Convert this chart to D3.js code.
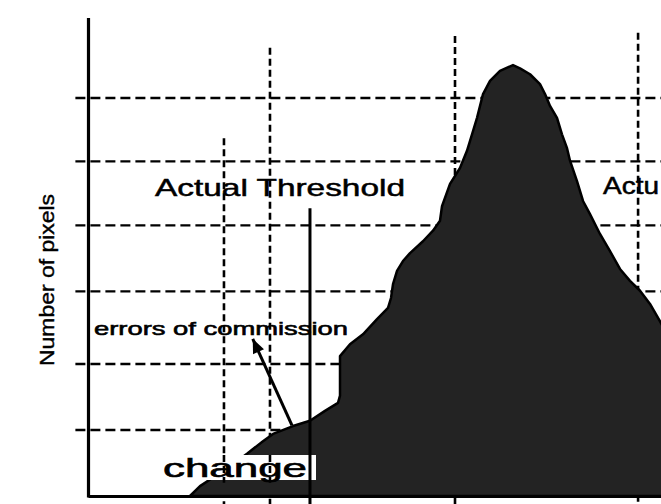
<!DOCTYPE html>
<html>
<head>
<meta charset="utf-8">
<script src="https://cdn.jsdelivr.net/npm/d3@7"></script>
<style>
  html, body { margin: 0; padding: 0; background: #fff; }
  svg { display: block; }
</style>
</head>
<body>
<svg id="chart" width="661" height="504"></svg>
<script>
// ---- data ----
// histogram outline: brightness value (0-100) vs number of pixels (arbitrary units)
const binX = [17.8, 19.55, 22.16, 24.78, 27.75, 30.54, 32.29, 35.78, 38.74, 41.36, 43.63, 43.98, 43.98,
  45.72, 47.99, 50.44, 52.36, 52.88, 53.23, 53.93, 54.97, 56.20, 58.46, 60.21, 61.43, 61.78, 63.18,
  64.92, 66.14, 67.02, 67.89, 68.94, 70.16, 71.90, 74.17, 75.39, 77.14, 78.88, 79.76, 80.63, 81.85,
  82.72, 83.60, 84.12, 85.34, 86.39, 87.61, 89.35, 91.10, 92.84, 94.59, 96.34, 98.08, 100, 102];
const pixelCount = [0, 0.15, 0.30, 0.45, 0.64, 0.83, 0.94, 1.06, 1.14, 1.29, 1.41, 1.52, 2.12,
  2.30, 2.45, 2.68, 2.85, 3.0, 3.21, 3.41, 3.56, 3.68, 3.86, 4.02, 4.17, 4.39, 4.73,
  4.97, 5.23, 5.48, 5.73, 6.09, 6.29, 6.44, 6.53, 6.48, 6.39, 6.24, 6.09, 5.91, 5.73,
  5.48, 5.27, 5.08, 4.77, 4.47, 4.27, 3.97, 3.71, 3.44, 3.26, 3.11, 2.91, 2.62, 2.3];
// horizontal dashed reference levels
const gridLevels = [1, 2, 3.1, 4.1, 5.07, 6.03];
// vertical dashed reference values and the level they start from
const dashedX = [23.73, 31.76, 64.05, 96.0];
const dashedTop = [5.42, 6.79, 6.97, 7.02];
// actual threshold (solid line)
const thresholdX = [38.74];
const thresholdTop = [4.36];
// labels
const yLabel = "Number of pixels";
const thresholdLabels = ["Actual Threshold", "Actu"];
const commissionLabel = "errors of commission";
const changeLabel = "change";

// ---- scales ----
const W = 661, H = 504;
const x = d3.scaleLinear().domain([0, 100]).range([88, 661]);
const y = d3.scaleLinear().domain([0, 7.5]).range([496, 1]);
const FONT = "Liberation Sans, Arial, sans-serif";

const svg = d3.select("#chart");
svg.append("defs").append("clipPath").attr("id", "clip")
  .append("rect").attr("x", 0).attr("y", 0).attr("width", W).attr("height", H);
const g = svg.append("g").attr("clip-path", "url(#clip)");

// horizontal dashed grid
g.selectAll("line.hgrid").data(gridLevels).enter().append("line")
  .attr("class", "hgrid")
  .attr("x1", x(-2.2)).attr("x2", W)
  .attr("y1", d => y(d)).attr("y2", d => y(d))
  .attr("stroke", "#000").attr("stroke-width", 2.4)
  .attr("stroke-dasharray", "10,5");

// vertical dashed lines
g.selectAll("line.vgrid").data(dashedX).enter().append("line")
  .attr("class", "vgrid")
  .attr("x1", d => x(d)).attr("x2", d => x(d))
  .attr("y1", (d, i) => y(dashedTop[i])).attr("y2", H)
  .attr("stroke", "#000").attr("stroke-width", 2.6)
  .attr("stroke-dasharray", "7,4");

// histogram area
const area = d3.area()
  .x((d, i) => x(binX[i]))
  .y0(y(0))
  .y1((d, i) => y(pixelCount[i]))
  .curve(d3.curveLinear);
g.append("path")
  .datum(binX)
  .attr("d", area)
  .attr("fill", "#232323")
  .attr("stroke", "#000")
  .attr("stroke-width", 2.5)
  .attr("stroke-linejoin", "round");

// "change" label with white box
g.append("rect")
  .attr("x", 190).attr("y", 455).attr("width", 126).attr("height", 25)
  .attr("fill", "#fff");
g.append("text")
  .attr("x", 163).attr("y", 477)
  .attr("font-family", FONT)
  .attr("font-size", 25)
  .attr("textLength", 144).attr("lengthAdjust", "spacingAndGlyphs")
  .attr("fill", "#000").attr("stroke", "#000").attr("stroke-width", 0.6)
  .text(changeLabel);

// vertical dashed lines re-drawn over the label area
g.selectAll("line.vgrid2").data(dashedX.slice(0, 2)).enter().append("line")
  .attr("x1", d => x(d)).attr("x2", d => x(d))
  .attr("y1", y(0.62)).attr("y2", y(0.2))
  .attr("stroke", "#000").attr("stroke-width", 2.6)
  .attr("stroke-dasharray", "7,4");

// threshold solid line
g.selectAll("line.thr").data(thresholdX).enter().append("line")
  .attr("x1", d => x(d)).attr("x2", d => x(d))
  .attr("y1", (d, i) => y(thresholdTop[i])).attr("y2", H)
  .attr("stroke", "#000").attr("stroke-width", 3);

// threshold labels
g.append("text")
  .attr("x", 155).attr("y", 196)
  .attr("font-family", FONT)
  .attr("font-size", 24)
  .attr("textLength", 250).attr("lengthAdjust", "spacingAndGlyphs")
  .attr("fill", "#000").attr("stroke", "#000").attr("stroke-width", 0.5)
  .text(thresholdLabels[0]);
g.append("text")
  .attr("x", 603).attr("y", 194)
  .attr("font-family", FONT)
  .attr("font-size", 24)
  .attr("textLength", 56).attr("lengthAdjust", "spacingAndGlyphs")
  .attr("fill", "#000").attr("stroke", "#000").attr("stroke-width", 0.5)
  .text(thresholdLabels[1]);

// errors of commission label
g.append("text")
  .attr("x", 94).attr("y", 335)
  .attr("font-family", FONT)
  .attr("font-size", 19)
  .attr("textLength", 254).attr("lengthAdjust", "spacingAndGlyphs")
  .attr("fill", "#000").attr("stroke", "#000").attr("stroke-width", 0.6)
  .text(commissionLabel);

// arrow
const ax1 = x(35.6), ay1 = y(1.07), ax2 = x(28.75), ay2 = y(2.38);
g.append("line")
  .attr("x1", ax1).attr("y1", ay1).attr("x2", ax2).attr("y2", ay2)
  .attr("stroke", "#000").attr("stroke-width", 3);
const ang = Math.atan2(ay2 - ay1, ax2 - ax1);
const hl = 14, hw = 6;
const bx = ax2 - hl * Math.cos(ang), by = ay2 - hl * Math.sin(ang);
g.append("path")
  .attr("d", `M${ax2},${ay2} L${bx + hw * Math.sin(ang)},${by - hw * Math.cos(ang)} L${bx - hw * Math.sin(ang)},${by + hw * Math.cos(ang)} Z`)
  .attr("fill", "#000");

// axes
const xAxis = d3.axisBottom(x.copy().domain([0, 100]).range([x(0), W]))
  .tickValues([]).tickSizeOuter(0);
const xa = g.append("g").attr("transform", `translate(0,${y(0)})`).call(xAxis);
xa.select(".domain").attr("stroke", "#000").attr("stroke-width", 3.2);

const yAxis = d3.axisLeft(y.copy().domain([0, 7.25]).range([y(0) + 1, y(7.25)]))
  .tickValues([]).tickSizeOuter(0);
const ya = g.append("g").attr("transform", `translate(${x(0)},0)`).call(yAxis);
ya.select(".domain").attr("stroke", "#000").attr("stroke-width", 3.2);

// y label
g.append("text")
  .attr("transform", `translate(54,280) rotate(-90)`)
  .attr("text-anchor", "middle")
  .attr("font-family", FONT)
  .attr("font-size", 21)
  .attr("textLength", 172).attr("lengthAdjust", "spacingAndGlyphs")
  .attr("fill", "#000").attr("stroke", "#000").attr("stroke-width", 0.4)
  .text(yLabel);
</script>
</body>
</html>
